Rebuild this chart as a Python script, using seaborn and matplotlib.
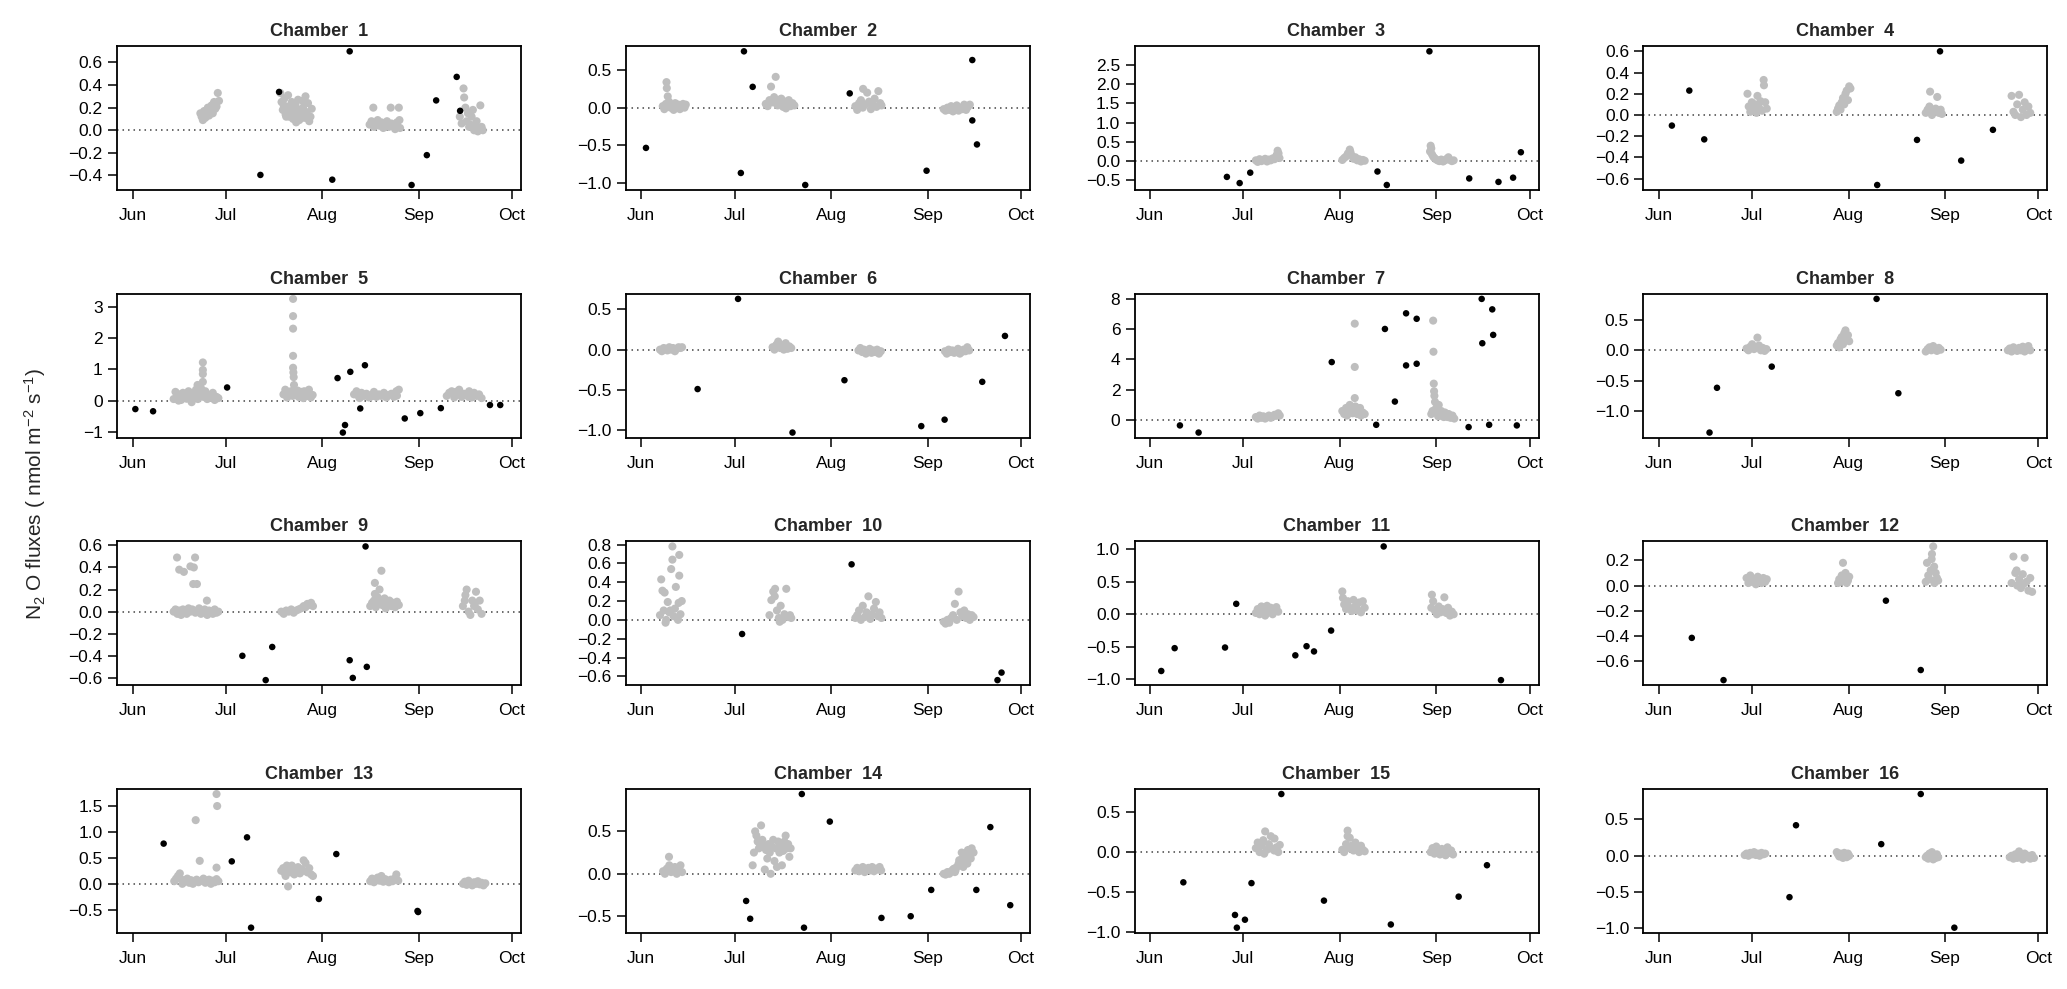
import matplotlib
matplotlib.use("Agg")
import matplotlib.pyplot as plt
import numpy as np
import pandas as pd
import seaborn as sns
from matplotlib.ticker import FixedLocator, FuncFormatter

# ---------------- data ----------------
# x = days since 1 June
month_ticks = [0, 30, 61, 92, 122]
month_labels = ["Jun", "Jul", "Aug", "Sep", "Oct"]

# black points (individual measurements)
c1_black_day = [41.1, 47.1, 64.2, 69.8, 89.7, 94.6, 97.6, 104.2, 105.3]
c1_black_val = [-0.395, 0.339, -0.437, 0.698, -0.484, -0.22, 0.264, 0.472, 0.172]
c2_black_day = [1.5, 32.0, 33.0, 35.8, 52.7, 67.0, 91.7, 106.4, 106.4, 107.9]
c2_black_val = [-0.536, -0.87, 0.75, 0.277, -1.03, 0.19, -0.84, 0.634, -0.17, -0.49]
c3_black_day = [24.7, 28.8, 32.2, 73.1, 76.1, 89.8, 102.6, 112.0, 116.7, 119.2]
c3_black_val = [-0.41, -0.57, -0.30, -0.27, -0.62, 2.85, -0.45, -0.54, -0.43, 0.23]
c4_black_day = [4.2, 9.8, 14.6, 70.2, 83.0, 90.4, 97.2, 107.4]
c4_black_val = [-0.10, 0.23, -0.23, -0.66, -0.235, 0.60, -0.43, -0.14]
c5_black_day = [0.9, 6.6, 30.4, 65.9, 67.6, 68.3, 70.0, 73.2, 74.7, 87.5, 92.5, 99.1, 114.9, 118.2]
c5_black_val = [-0.27, -0.34, 0.42, 0.72, -1.02, -0.78, 0.92, -0.25, 1.13, -0.57, -0.40, -0.24, -0.14, -0.14]
c6_black_day = [18.1, 31.1, 48.6, 65.3, 90.0, 97.5, 109.6, 116.9]
c6_black_val = [-0.49, 0.63, -1.03, -0.38, -0.95, -0.87, -0.40, 0.17]
c7_black_day = [9.6, 15.6, 58.4, 72.7, 75.5, 78.7, 82.3, 82.3, 85.7, 85.7, 102.4, 106.6, 106.8, 109.0, 110.0, 110.3, 117.9]
c7_black_val = [-0.35, -0.82, 3.82, -0.31, 6.0, 1.22, 7.03, 3.6, 6.67, 3.71, -0.46, 7.98, 5.06, -0.31, 7.29, 5.61, -0.35]
c8_black_day = [16.3, 18.7, 36.3, 70.0, 77.0]
c8_black_val = [-1.36, -0.62, -0.27, 0.85, -0.71]
c9_black_day = [35.3, 42.8, 44.9, 69.8, 70.8, 74.9, 75.3]
c9_black_val = [-0.40, -0.62, -0.32, -0.44, -0.60, 0.59, -0.50]
c10_black_day = [32.4, 67.6, 114.5, 115.8]
c10_black_val = [-0.15, 0.59, -0.64, -0.56]
c11_black_day = [3.6, 7.9, 24.1, 27.7, 46.7, 50.3, 52.7, 58.2, 75.1, 112.8]
c11_black_val = [-0.87, -0.52, -0.51, 0.16, -0.63, -0.49, -0.57, -0.25, 1.04, -1.01]
c12_black_day = [10.6, 20.8, 73.0, 84.2]
c12_black_val = [-0.415, -0.75, -0.12, -0.67]
c13_black_day = [10.0, 31.9, 36.8, 38.1, 59.9, 65.5, 91.6, 91.8]
c13_black_val = [0.77, 0.43, 0.89, -0.84, -0.29, 0.57, -0.52, -0.54]
c14_black_day = [33.7, 35.0, 51.6, 52.3, 60.6, 77.2, 86.6, 93.2, 107.7, 112.2, 118.6]
c14_black_val = [-0.32, -0.53, 0.94, -0.635, 0.615, -0.52, -0.50, -0.19, -0.19, 0.55, -0.37]
c15_black_day = [10.7, 27.3, 27.9, 30.5, 32.6, 42.2, 55.9, 77.4, 99.2, 108.3]
c15_black_val = [-0.38, -0.79, -0.95, -0.85, -0.39, 0.73, -0.61, -0.91, -0.56, -0.165]
c16_black_day = [42.0, 44.1, 71.5, 84.2, 95.0]
c16_black_val = [-0.57, 0.42, 0.16, 0.85, -0.99]

# grey points (campaign clusters)
c1_gray_day = [21.8, 22.2, 22.6, 23.0, 23.4, 23.8, 24.2, 24.6, 25.0, 25.4, 25.8, 26.2, 26.6, 27.0, 27.4, 27.8,
               47.5, 47.9, 48.3, 48.8, 49.2, 49.6, 50.0, 50.4, 50.8, 51.2, 51.6, 52.0, 52.4, 52.8, 53.2, 53.6,
               54.0, 54.4, 54.8, 55.2, 55.6, 56.0, 56.4, 56.8, 57.2, 57.6, 48.6, 50.6, 52.6, 54.6, 56.6, 49.4,
               76.2, 76.8, 77.4, 77.6, 78.2, 78.8, 79.4, 80.0, 80.6, 81.2, 81.8, 82.4, 83.0, 83.2, 83.8, 84.4,
               85.0, 85.6, 85.8, 86.0,
               105.2, 105.8, 106.4, 106.6, 107.0, 107.4, 107.8, 108.2, 108.6, 109.0, 109.4, 109.8, 110.2, 110.6,
               111.0, 111.4, 111.8, 112.2, 112.6]
c1_gray_val = [0.15, 0.12, 0.09, 0.17, 0.11, 0.14, 0.2, 0.13, 0.17, 0.22, 0.15, 0.25, 0.19, 0.21, 0.33, 0.26,
               0.33, 0.25, 0.18, 0.28, 0.14, 0.21, 0.31, 0.12, 0.19, 0.25, 0.1, 0.16, 0.22, 0.13, 0.27, 0.09,
               0.18, 0.14, 0.2, 0.11, 0.3, 0.16, 0.24, 0.08, 0.12, 0.19, 0.22, 0.17, 0.07, 0.26, 0.1, 0.12,
               0.05, 0.08, 0.2, 0.03, 0.06, 0.09, 0.04, 0.07, 0.02, 0.05, 0.08, 0.03, 0.2, 0.06, 0.04, 0.01,
               0.07, 0.2, 0.09, 0.02,
               0.12, 0.06, 0.37, 0.29, 0.2, 0.08, 0.15, 0.03, 0.05, 0.12, 0.18, 0.0, 0.04, 0.08,
               -0.01, 0.02, 0.22, 0.03, 0.0]

c2_gray_day = [6.9, 7.4, 7.9, 8.1, 8.2, 8.5, 8.9, 9.4, 9.9, 10.4, 10.9, 11.4, 11.9, 12.4, 12.9, 13.4, 13.9, 14.3,
               40.0, 40.6, 41.2, 41.7, 42.2, 42.7, 43.2, 43.3, 43.8, 44.4, 45.0, 45.6, 46.2, 46.8, 47.4, 48.0,
               48.6, 49.2, 44.7, 46.5,
               68.8, 69.4, 70.0, 70.6, 71.2, 71.3, 71.9, 72.6, 73.2, 73.8, 74.4, 75.0, 75.6, 76.2, 76.8, 77.2,
               97.2, 97.8, 98.4, 99.0, 99.6, 100.2, 100.8, 101.4, 102.0, 102.6, 103.2, 103.8, 104.4, 105.0, 105.6]
c2_gray_val = [0.02, -0.02, 0.05, 0.34, 0.26, 0.15, 0.08, 0.0, 0.03, -0.03, 0.06, 0.01, 0.04, -0.02, 0.02, 0.05, 0.0, 0.04,
               0.05, 0.02, 0.1, 0.28, 0.07, 0.14, 0.41, 0.09, 0.03, 0.06, 0.12, 0.01, 0.08, 0.04, 0.1, 0.02,
               0.06, 0.03, 0.11, -0.01,
               0.02, -0.03, 0.06, 0.1, 0.0, 0.25, 0.04, 0.2, 0.08, -0.02, 0.05, 0.12, 0.01, 0.22, 0.06, 0.03,
               -0.02, -0.04, 0.0, -0.03, 0.02, -0.05, -0.01, 0.03, -0.04, 0.0, -0.02, 0.04, -0.03, 0.01, 0.04]

c3_gray_day = [34.0, 34.6, 35.2, 35.8, 36.4, 37.0, 37.6, 38.2, 38.8, 39.4, 40.0, 40.4, 40.7, 41.0, 41.3, 41.6,
               61.8, 62.4, 63.0, 63.6, 64.2, 64.4, 64.8, 65.4, 66.0, 66.6, 67.2, 67.8, 68.4, 69.0,
               90.0, 90.2, 90.4, 90.6, 91.0, 91.4, 91.8, 92.4, 93.0, 93.6, 94.2, 94.8, 95.4, 95.9, 96.4, 97.0, 97.6]
c3_gray_val = [0.02, -0.02, 0.05, 0.0, 0.03, 0.06, -0.01, 0.04, 0.02, 0.07, 0.05, 0.1, 0.16, 0.27, 0.2, 0.08,
               0.03, 0.08, 0.12, 0.2, 0.3, 0.24, 0.15, 0.06, 0.1, 0.02, 0.05, -0.01, 0.03, 0.01,
               0.25, 0.4, 0.33, 0.18, 0.12, 0.08, 0.05, 0.02, 0.0, 0.04, -0.01, 0.02, 0.06, 0.1, 0.03, 0.0, 0.02]

c4_gray_day = [28.5, 28.9, 29.4, 29.9, 30.4, 30.9, 31.4, 31.7, 32.2, 32.7, 33.2, 33.7, 33.8, 34.2, 34.7,
               57.2, 57.6, 58.0, 58.4, 58.8, 59.2, 59.6, 60.0, 60.4, 60.8, 61.2, 61.6,
               85.8, 86.4, 87.0, 87.2, 87.8, 88.4, 89.0, 89.5, 90.0, 90.6, 91.0,
               113.4, 114.0, 114.6, 115.2, 115.8, 116.4, 117.0, 117.6, 118.2, 118.8, 119.4]
c4_gray_val = [0.2, 0.08, 0.03, 0.12, 0.05, 0.1, 0.02, 0.18, 0.07, 0.13, 0.04, 0.33, 0.28, 0.12, 0.06,
               0.03, 0.06, 0.09, 0.05, 0.12, 0.16, 0.1, 0.2, 0.23, 0.14, 0.27, 0.25,
               0.02, 0.05, 0.08, 0.22, 0.0, 0.04, 0.06, 0.17, 0.02, 0.05, 0.01,
               0.18, 0.03, 0.0, 0.1, 0.19, -0.02, 0.05, 0.12, 0.0, 0.08, 0.02]

c5_gray_day = [13.2, 13.8, 14.4, 15.0, 15.6, 16.2, 16.8, 17.4, 18.0, 18.6, 19.2, 19.8, 20.4, 20.9, 21.4, 22.0,
               22.6, 22.6, 22.6, 22.6, 22.8, 23.4, 24.0, 24.6, 25.2, 25.8, 26.4, 27.0, 27.6, 14.8, 17.0, 19.0,
               21.0, 23.0, 25.0,
               48.5, 49.1, 49.7, 50.3, 50.9, 51.5, 51.6, 51.6, 51.6, 51.6, 51.6, 51.7, 51.8, 51.9, 52.5, 53.1,
               53.7, 54.3, 54.9, 55.5, 56.1, 56.7, 57.3, 57.9, 49.4, 53.4, 55.2,
               71.2, 72.0, 72.8, 73.6, 74.4, 75.2, 76.0, 76.8, 77.6, 78.4, 79.2, 80.0, 80.8, 81.6, 82.4, 83.2,
               84.0, 84.8, 85.6, 73.0, 77.0, 81.0, 85.0,
               101.0, 101.8, 102.6, 103.4, 104.2, 105.0, 105.8, 106.6, 107.4, 108.2, 109.0, 109.8, 110.6, 111.4,
               112.2, 104.0, 108.0]
c5_gray_val = [0.05, 0.28, 0.1, 0.2, 0.02, 0.25, 0.12, 0.06, 0.3, 0.15, 0.08, 0.22, 0.35, 0.5, 0.18, 0.4,
               1.22, 0.98, 0.85, 0.6, 0.12, 0.3, 0.05, 0.18, 0.1, 0.25, 0.02, 0.12, 0.08, 0.0, 0.15, -0.05,
               0.05, 0.2, 0.1,
               0.2, 0.35, 0.1, 0.25, 0.3, 0.15, 3.25, 2.7, 2.3, 1.43, 1.05, 0.9, 0.75, 0.5, 0.2, 0.32,
               0.12, 0.28, 0.08, 0.22, 0.15, 0.35, 0.1, 0.18, 0.25, 0.12, 0.3,
               0.2, 0.3, 0.12, 0.25, 0.15, 0.22, 0.1, 0.18, 0.28, 0.12, 0.2, 0.15, 0.25, 0.1, 0.18, 0.22,
               0.12, 0.3, 0.35, 0.08, 0.14, 0.2, 0.16,
               0.15, 0.25, 0.3, 0.1, 0.2, 0.35, 0.12, 0.22, 0.18, 0.3, 0.1, 0.25, 0.15, 0.2,
               0.08, 0.28, 0.12]

c6_gray_day = [6.0, 6.6, 7.2, 7.8, 8.4, 9.0, 9.6, 10.2, 10.8, 11.4, 12.0, 12.6, 13.1,
               42.2, 42.8, 43.4, 44.0, 44.6, 45.2, 45.8, 46.4, 47.0, 47.6, 48.2,
               69.8, 70.4, 71.0, 71.6, 72.2, 72.8, 73.4, 74.0, 74.6, 75.2, 75.8, 76.4, 77.0,
               97.6, 98.2, 98.8, 99.4, 100.0, 100.6, 101.2, 101.8, 102.4, 103.0, 103.6, 104.2, 104.8, 105.4]
c6_gray_val = [0.0, -0.02, 0.02, 0.01, -0.01, 0.03, 0.0, 0.02, -0.02, 0.01, 0.03, 0.02, 0.03,
               0.03, 0.0, 0.06, 0.1, 0.02, 0.05, 0.0, 0.08, 0.01, 0.04, 0.02,
               -0.01, 0.02, -0.03, 0.0, -0.05, -0.02, 0.01, -0.04, -0.01, -0.03, 0.0, -0.05, -0.02,
               -0.02, -0.05, 0.0, -0.03, -0.01, -0.04, -0.02, 0.01, -0.05, -0.03, 0.0, -0.02, 0.03, -0.01]

c7_gray_day = [34.0, 34.6, 35.2, 35.8, 36.4, 37.0, 37.6, 38.2, 38.8, 39.4, 40.0, 40.6, 41.2, 41.7,
               61.8, 62.4, 63.0, 63.6, 64.2, 64.8, 65.4, 65.8, 65.8, 65.8, 66.0, 66.6, 67.2, 67.8, 68.4, 69.0,
               63.3, 65.1, 66.3, 67.5,
               90.4, 90.8, 91.0, 91.1, 91.2, 91.3, 91.4, 91.6, 92.0, 92.4, 92.8, 93.2, 93.6, 94.0, 94.4, 94.8,
               95.2, 95.6, 96.0, 96.6, 97.2, 97.8, 91.8, 92.6]
c7_gray_val = [0.2, 0.1, 0.3, 0.15, 0.25, 0.1, 0.2, 0.3, 0.15, 0.22, 0.35, 0.28, 0.45, 0.3,
               0.6, 0.4, 0.8, 0.5, 1.0, 0.6, 0.7, 6.35, 3.5, 1.45, 0.9, 0.4, 0.6, 0.3, 0.5, 0.4,
               0.3, 0.45, 0.7, 0.8,
               0.4, 0.6, 6.55, 4.5, 2.4, 1.9, 1.6, 1.2, 0.8, 0.5, 1.0, 0.3, 0.6, 0.4, 0.2, 0.5,
               0.3, 0.2, 0.4, 0.15, 0.3, 0.1, 0.7, 0.25]

c8_gray_day = [28.2, 28.8, 29.4, 30.0, 30.6, 31.2, 31.7, 32.2, 32.8, 33.4, 34.0, 34.6,
               57.2, 57.6, 58.0, 58.4, 58.8, 59.2, 59.6, 60.0, 60.4, 60.8, 61.2,
               85.8, 86.4, 87.0, 87.6, 88.2, 88.8, 89.4, 90.0, 90.6,
               112.2, 112.8, 113.4, 114.0, 114.6, 115.2, 115.8, 116.4, 117.0, 117.6, 118.2, 118.8, 119.4]
c8_gray_val = [0.03, 0.0, 0.06, 0.1, 0.02, 0.05, 0.21, 0.08, 0.0, 0.04, -0.01, 0.02,
               0.08, 0.12, 0.05, 0.18, 0.22, 0.1, 0.28, 0.33, 0.2, 0.25, 0.15,
               -0.02, 0.02, 0.05, 0.0, 0.07, 0.03, -0.01, 0.04, 0.01,
               0.0, 0.03, -0.02, 0.05, 0.01, -0.01, 0.04, 0.0, 0.06, -0.02, 0.02, 0.07, 0.0]

c9_gray_day = [13.2, 13.8, 14.3, 14.4, 15.0, 15.0, 15.6, 16.2, 16.5, 16.8, 17.4, 18.0, 18.6, 18.6, 19.2, 19.5,
               19.7, 20.1, 20.2, 20.7, 20.8, 21.4, 22.0, 22.6, 23.2, 23.9, 24.0, 24.6, 25.2, 25.8, 26.4, 27.0, 27.6,
               47.8, 48.6, 49.4, 50.2, 51.0, 51.8, 52.6, 53.4, 54.2, 55.0, 55.6, 56.2, 56.8, 57.4, 58.0,
               76.4, 77.0, 77.6, 77.9, 77.9, 78.2, 78.8, 79.4, 80.0, 80.2, 80.8, 81.4, 82.0, 82.6, 83.2, 83.8,
               84.4, 85.0, 85.6, 79.0, 81.0, 83.0,
               106.2, 106.8, 107.4, 108.0, 108.6, 109.2, 109.8, 110.4, 111.0, 111.6, 112.2, 107.0, 110.0]
c9_gray_val = [0.0, 0.02, 0.49, -0.02, 0.38, 0.01, -0.03, 0.02, 0.36, 0.0, -0.02, 0.03, 0.41, 0.0, 0.02, 0.25,
               0.4, 0.49, -0.01, 0.25, 0.01, 0.03, -0.02, 0.0, 0.02, 0.1, -0.03, 0.01, 0.0, -0.02, 0.02, -0.01, 0.0,
               0.0, -0.02, 0.01, 0.0, 0.02, -0.01, 0.01, 0.02, 0.03, 0.05, 0.04, 0.07, 0.06, 0.08, 0.05,
               0.05, 0.08, 0.1, 0.26, 0.16, 0.04, 0.13, 0.2, 0.37, 0.06, 0.09, 0.03, 0.07, 0.1, 0.05, 0.08,
               0.04, 0.09, 0.06, 0.1, 0.12, 0.07,
               0.05, 0.1, 0.2, 0.0, -0.03, 0.1, 0.05, 0.18, 0.02, 0.1, -0.02, 0.15, 0.06]

c10_gray_day = [6.0, 6.4, 6.8, 7.2, 7.5, 8.0, 8.5, 9.0, 9.6, 10.0, 10.0, 10.4, 10.8, 11.1, 11.5, 12.0,
                12.2, 12.2, 12.6, 13.0, 7.8, 9.3, 11.8,
                41.2, 41.8, 42.4, 43.0, 43.6, 44.2, 44.8, 45.4, 46.0, 46.6, 47.2, 47.8, 48.2, 42.9, 44.5,
                68.8, 69.4, 70.0, 70.6, 71.2, 71.8, 72.4, 73.0, 73.6, 74.2, 74.8, 75.4, 76.0, 76.6, 77.2,
                97.2, 97.8, 98.4, 99.0, 99.6, 100.2, 100.8, 101.4, 102.0, 102.6, 103.2, 103.8, 104.4, 105.0,
                105.6, 106.2, 106.8]
c10_gray_val = [0.05, 0.43, 0.31, 0.1, 0.29, 0.0, 0.19, 0.08, 0.54, 0.78, 0.64, 0.04, 0.12, 0.35, 0.02, 0.18,
                0.69, 0.47, 0.06, 0.2, -0.03, 0.1, 0.0,
                0.05, 0.21, 0.3, 0.33, 0.1, 0.02, 0.15, 0.0, 0.06, 0.33, 0.03, 0.05, 0.02, 0.25, -0.02,
                0.02, 0.05, 0.1, 0.0, 0.15, 0.03, 0.08, 0.25, 0.01, 0.06, 0.12, 0.19, 0.04, 0.08, 0.02,
                -0.02, -0.04, 0.0, -0.03, 0.02, 0.05, 0.17, 0.0, 0.3, 0.08, 0.04, 0.1, 0.02, 0.06,
                0.0, 0.05, 0.03]

c11_gray_day = [34.0, 34.6, 35.2, 35.8, 36.4, 37.0, 37.6, 38.2, 38.8, 39.4, 40.0, 40.6, 41.2,
                61.8, 62.0, 62.4, 63.0, 63.6, 64.2, 64.8, 65.4, 66.0, 66.6, 67.2, 67.8, 68.4, 69.0, 63.3, 66.3,
                90.4, 90.6, 91.0, 91.6, 92.2, 92.8, 93.4, 94.0, 94.6, 95.2, 95.8, 96.4, 97.0, 97.6]
c11_gray_val = [0.02, 0.08, 0.0, 0.12, 0.05, -0.02, 0.13, 0.03, 0.1, 0.0, 0.06, 0.11, 0.04,
                0.35, 0.25, 0.15, 0.08, 0.2, 0.1, 0.05, 0.22, 0.12, 0.08, 0.18, 0.03, 0.2, 0.1, 0.15, 0.06,
                0.1, 0.3, 0.2, 0.05, 0.0, 0.12, 0.03, 0.08, 0.26, 0.02, 0.1, -0.02, 0.04, 0.0]

c12_gray_day = [28.2, 28.8, 29.4, 30.0, 30.6, 31.2, 31.8, 32.4, 33.0, 33.6, 34.2, 34.7,
                57.6, 58.0, 58.4, 58.8, 59.2, 59.6, 60.0, 60.4, 60.8, 61.2,
                85.8, 86.2, 86.6, 87.0, 87.4, 87.8, 88.2, 88.6, 89.0, 89.4, 89.8, 87.7, 88.5,
                113.4, 114.0, 114.6, 115.2, 115.8, 116.4, 117.0, 117.6, 118.2, 118.8, 119.4, 120.0, 115.0, 117.2]
c12_gray_val = [0.06, 0.02, 0.08, 0.03, 0.05, 0.01, 0.07, 0.04, 0.02, 0.06, 0.03, 0.05,
                0.02, 0.05, 0.03, 0.08, 0.18, 0.06, 0.1, 0.02, 0.04, 0.07,
                0.03, 0.18, 0.08, 0.05, 0.12, 0.25, 0.31, 0.02, 0.1, 0.06, 0.04, 0.21, 0.15,
                0.02, 0.23, 0.1, 0.0, 0.05, -0.02, 0.09, 0.22, 0.03, -0.04, 0.06, -0.05, 0.12, 0.01]

c13_gray_day = [13.4, 14.0, 14.6, 15.2, 15.8, 16.4, 17.0, 17.6, 18.2, 18.8, 19.4, 20.0, 20.3, 20.6, 21.2, 21.6,
                22.2, 22.8, 23.4, 24.0, 24.6, 25.2, 25.8, 26.4, 27.0, 27.0, 27.2, 27.0, 27.6, 15.0, 16.0,
                47.8, 48.4, 49.0, 49.6, 50.0, 50.2, 50.8, 51.4, 52.0, 52.6, 53.2, 53.8, 54.4, 55.0, 55.6, 56.2,
                56.8, 57.4, 58.0, 49.2, 51.2, 54.8,
                76.4, 77.0, 77.6, 78.2, 78.8, 79.4, 80.0, 80.6, 81.2, 81.8, 82.4, 83.0, 83.6, 84.2, 84.8, 85.4,
                106.2, 106.8, 107.4, 108.0, 108.6, 109.2, 109.8, 110.4, 111.0, 111.6, 112.2, 112.8, 113.4]
c13_gray_val = [0.05, 0.1, 0.15, 0.2, 0.08, 0.03, 0.06, 0.1, 0.02, 0.07, 0.0, 0.05, 1.22, 0.08, 0.03, 0.44,
                0.06, 0.1, 0.02, 0.05, 0.08, 0.0, 0.06, 0.03, 1.72, 0.31, 1.49, 0.09, 0.05, 0.12, 0.0,
                0.25, 0.3, 0.2, 0.35, -0.05, 0.28, 0.22, 0.3, 0.18, 0.25, 0.32, 0.2, 0.28, 0.45, 0.4, 0.22,
                0.3, 0.18, 0.15, 0.15, 0.35, 0.25,
                0.05, 0.1, 0.03, 0.08, 0.12, 0.06, 0.15, 0.04, 0.09, 0.06, 0.03, 0.08, 0.05, 0.1, 0.18, 0.06,
                0.0, 0.04, -0.02, 0.06, 0.01, -0.03, 0.03, 0.0, 0.05, -0.01, 0.02, -0.03, 0.01]

c14_gray_day = [7.0, 7.6, 8.2, 8.9, 9.0, 9.6, 10.2, 10.8, 11.4, 12.0, 12.6, 13.1,
                35.8, 36.2, 36.6, 37.0, 37.4, 37.8, 38.2, 38.5, 38.9, 39.3, 39.7, 40.1, 40.5, 40.9, 41.3, 41.6,
                42.0, 42.4, 42.8, 43.2, 43.6, 44.0, 44.4, 44.8, 45.2, 45.6, 46.0, 46.4, 46.8, 47.2, 47.6, 48.0,
                68.8, 69.4, 70.0, 70.6, 71.2, 71.8, 72.4, 73.0, 73.6, 74.2, 74.8, 75.4, 76.0, 76.6, 77.1,
                97.2, 97.8, 98.4, 99.0, 99.6, 100.2, 100.8, 101.4, 102.0, 102.6, 103.2, 103.8, 104.4, 105.0,
                105.6, 106.2, 106.8, 101.0, 102.2, 103.5, 104.8, 105.9, 100.5, 103.0]
c14_gray_val = [0.03, 0.0, 0.06, 0.2, 0.1, 0.02, 0.05, 0.08, 0.0, 0.04, 0.1, 0.02,
                0.1, 0.25, 0.5, 0.45, 0.38, 0.3, 0.35, 0.57, 0.4, 0.32, 0.05, 0.28, 0.18, 0.35, 0.25, 0.0,
                0.32, 0.4, 0.15, 0.3, 0.08, 0.38, 0.25, 0.33, 0.1, 0.27, 0.38, 0.45, 0.3, 0.35, 0.2, 0.3,
                0.04, 0.07, 0.03, 0.06, 0.08, 0.02, 0.05, 0.07, 0.04, 0.08, 0.03, 0.06, 0.05, 0.08, 0.04,
                0.0, -0.01, 0.02, 0.0, 0.03, 0.05, 0.02, 0.08, 0.12, 0.1, 0.18, 0.15, 0.22, 0.28,
                0.2, 0.3, 0.25, 0.04, 0.16, 0.08, 0.12, 0.18, 0.06, 0.25]

c15_gray_day = [34.0, 34.6, 35.2, 35.8, 36.4, 37.0, 37.6, 38.2, 38.8, 39.4, 40.0, 40.6, 41.2, 41.7, 36.7, 39.9,
                61.8, 62.4, 63.0, 63.5, 63.6, 64.2, 64.8, 65.4, 66.0, 66.6, 67.2, 67.8, 68.4, 69.0, 63.5,
                90.2, 90.8, 91.4, 92.0, 92.6, 93.2, 93.8, 94.4, 95.0, 95.6, 96.2, 96.8, 97.4]
c15_gray_val = [0.05, 0.12, 0.0, 0.08, 0.15, 0.26, 0.03, 0.1, 0.2, 0.04, 0.17, 0.06, 0.0, 0.09, -0.02, 0.02,
                0.03, 0.0, 0.1, 0.27, 0.05, 0.18, 0.08, 0.02, 0.12, 0.05, 0.0, 0.08, 0.03, 0.01, 0.2,
                0.0, 0.05, -0.02, 0.07, 0.01, -0.03, 0.04, 0.0, -0.04, 0.06, -0.01, 0.02, -0.03]

c16_gray_day = [27.6, 28.2, 28.8, 29.4, 30.0, 30.6, 31.2, 31.8, 32.4, 33.0, 33.6, 34.2,
                57.2, 57.6, 58.0, 58.4, 58.8, 59.2, 59.6, 60.0, 60.4, 60.8, 61.2,
                85.8, 86.2, 86.6, 87.0, 87.4, 87.8, 88.2, 88.6, 89.0, 89.4, 89.8,
                112.8, 113.4, 114.0, 114.6, 115.2, 115.8, 116.4, 117.0, 117.6, 118.2, 118.8, 119.4, 120.0, 120.6]
c16_gray_val = [0.01, 0.03, 0.0, 0.04, 0.02, 0.05, 0.01, 0.03, 0.0, 0.04, 0.02, 0.03,
                0.05, 0.02, -0.01, 0.03, 0.0, -0.03, 0.04, 0.01, -0.02, 0.03, 0.0,
                -0.02, 0.0, -0.04, 0.03, -0.01, 0.05, -0.05, 0.01, -0.03, 0.02, -0.02,
                -0.02, 0.0, -0.04, 0.02, -0.03, 0.06, -0.01, -0.05, 0.03, -0.02, 0.0, -0.04, 0.01, -0.03]

# y-axis tick values for each chamber
c1_yticks = [-0.4, -0.2, 0.0, 0.2, 0.4, 0.6]
c2_yticks = [-1.0, -0.5, 0.0, 0.5]
c3_yticks = [-0.5, 0.0, 0.5, 1.0, 1.5, 2.0, 2.5]
c4_yticks = [-0.6, -0.4, -0.2, 0.0, 0.2, 0.4, 0.6]
c5_yticks = [-1, 0, 1, 2, 3]
c6_yticks = [-1.0, -0.5, 0.0, 0.5]
c7_yticks = [0, 2, 4, 6, 8]
c8_yticks = [-1.0, -0.5, 0.0, 0.5]
c9_yticks = [-0.6, -0.4, -0.2, 0.0, 0.2, 0.4, 0.6]
c10_yticks = [-0.6, -0.4, -0.2, 0.0, 0.2, 0.4, 0.6, 0.8]
c11_yticks = [-1.0, -0.5, 0.0, 0.5, 1.0]
c12_yticks = [-0.6, -0.4, -0.2, 0.0, 0.2]
c13_yticks = [-0.5, 0.0, 0.5, 1.0, 1.5]
c14_yticks = [-0.5, 0.0, 0.5]
c15_yticks = [-1.0, -0.5, 0.0, 0.5]
c16_yticks = [-1.0, -0.5, 0.0, 0.5]

chambers = list(range(1, 17))
black_days = [c1_black_day, c2_black_day, c3_black_day, c4_black_day, c5_black_day, c6_black_day,
              c7_black_day, c8_black_day, c9_black_day, c10_black_day, c11_black_day, c12_black_day,
              c13_black_day, c14_black_day, c15_black_day, c16_black_day]
black_vals = [c1_black_val, c2_black_val, c3_black_val, c4_black_val, c5_black_val, c6_black_val,
              c7_black_val, c8_black_val, c9_black_val, c10_black_val, c11_black_val, c12_black_val,
              c13_black_val, c14_black_val, c15_black_val, c16_black_val]
gray_days = [c1_gray_day, c2_gray_day, c3_gray_day, c4_gray_day, c5_gray_day, c6_gray_day,
             c7_gray_day, c8_gray_day, c9_gray_day, c10_gray_day, c11_gray_day, c12_gray_day,
             c13_gray_day, c14_gray_day, c15_gray_day, c16_gray_day]
gray_vals = [c1_gray_val, c2_gray_val, c3_gray_val, c4_gray_val, c5_gray_val, c6_gray_val,
             c7_gray_val, c8_gray_val, c9_gray_val, c10_gray_val, c11_gray_val, c12_gray_val,
             c13_gray_val, c14_gray_val, c15_gray_val, c16_gray_val]
yticks_all = [c1_yticks, c2_yticks, c3_yticks, c4_yticks, c5_yticks, c6_yticks, c7_yticks, c8_yticks,
              c9_yticks, c10_yticks, c11_yticks, c12_yticks, c13_yticks, c14_yticks, c15_yticks, c16_yticks]

rows = []
for ch, bd, bv, gd, gv in zip(chambers, black_days, black_vals, gray_days, gray_vals, strict=True):
    for d, v in zip(gd, gv, strict=True):
        rows.append((ch, d, v, "grey"))
    for d, v in zip(bd, bv, strict=True):
        rows.append((ch, d, v, "black"))
df = pd.DataFrame(rows, columns=["chamber", "day", "flux", "kind"])

# ---------------- style ----------------
sns.set_style("ticks")
plt.rcParams["font.family"] = ["Liberation Sans", "DejaVu Sans"]
plt.rcParams["mathtext.default"] = "regular"
plt.rcParams["axes.linewidth"] = 1.3
plt.rcParams["axes.edgecolor"] = "black"


def make_formatter(fmt):
    return FuncFormatter(lambda v, pos: (fmt % v).replace("-", "\u2212"))


fig, axes = plt.subplots(4, 4, figsize=(20.67, 9.89), dpi=100)
fig.subplots_adjust(left=0.0566, right=0.9905, top=0.9535, bottom=0.0566, wspace=0.259, hspace=0.715)

for i, ax in enumerate(axes.flat):
    ch = chambers[i]
    sub = df[df["chamber"] == ch]
    ax.axhline(0, color="#444444", lw=1.1, ls=(0, (1, 2.6)), zorder=1)
    sns.scatterplot(data=sub[sub["kind"] == "grey"], x="day", y="flux", ax=ax,
                    color="#BEBEBE", s=34, linewidth=0, edgecolor="none", zorder=2, legend=False)
    sns.scatterplot(data=sub[sub["kind"] == "black"], x="day", y="flux", ax=ax,
                    color="black", s=22, linewidth=0, edgecolor="none", zorder=3, legend=False)
    ax.set_xlim(-5.0, 124.9)
    ax.set_ymargin(0.04)
    ax.autoscale_view(scalex=False, scaley=True)
    ax.xaxis.set_major_locator(FixedLocator(month_ticks))
    ax.set_xticklabels(month_labels)
    yt = yticks_all[i]
    ax.yaxis.set_major_locator(FixedLocator(yt))
    if not any(isinstance(t, float) for t in yt):
        ax.yaxis.set_major_formatter(make_formatter("%d"))
    else:
        ax.yaxis.set_major_formatter(make_formatter("%.1f"))
    ax.set_xlabel("")
    ax.set_ylabel("")
    ax.set_title(f"Chamber  {ch}", fontsize=13, fontweight="bold", pad=7)
    ax.tick_params(axis="both", direction="out", length=6.7, width=1.1, labelsize=12.5, colors="black")
    ax.tick_params(axis="x", pad=6)
    ax.tick_params(axis="y", pad=3.5)
    for sp in ax.spines.values():
        sp.set_visible(True)
        sp.set_color("black")
        sp.set_linewidth(1.3)

fig.text(0.017, 0.5, r"N$_2$ O fluxes ( nmol m$^{-2}$ s$^{-1}$)", rotation=90,
         ha="center", va="center", fontsize=15)

fig.savefig("out.png", dpi=100)
